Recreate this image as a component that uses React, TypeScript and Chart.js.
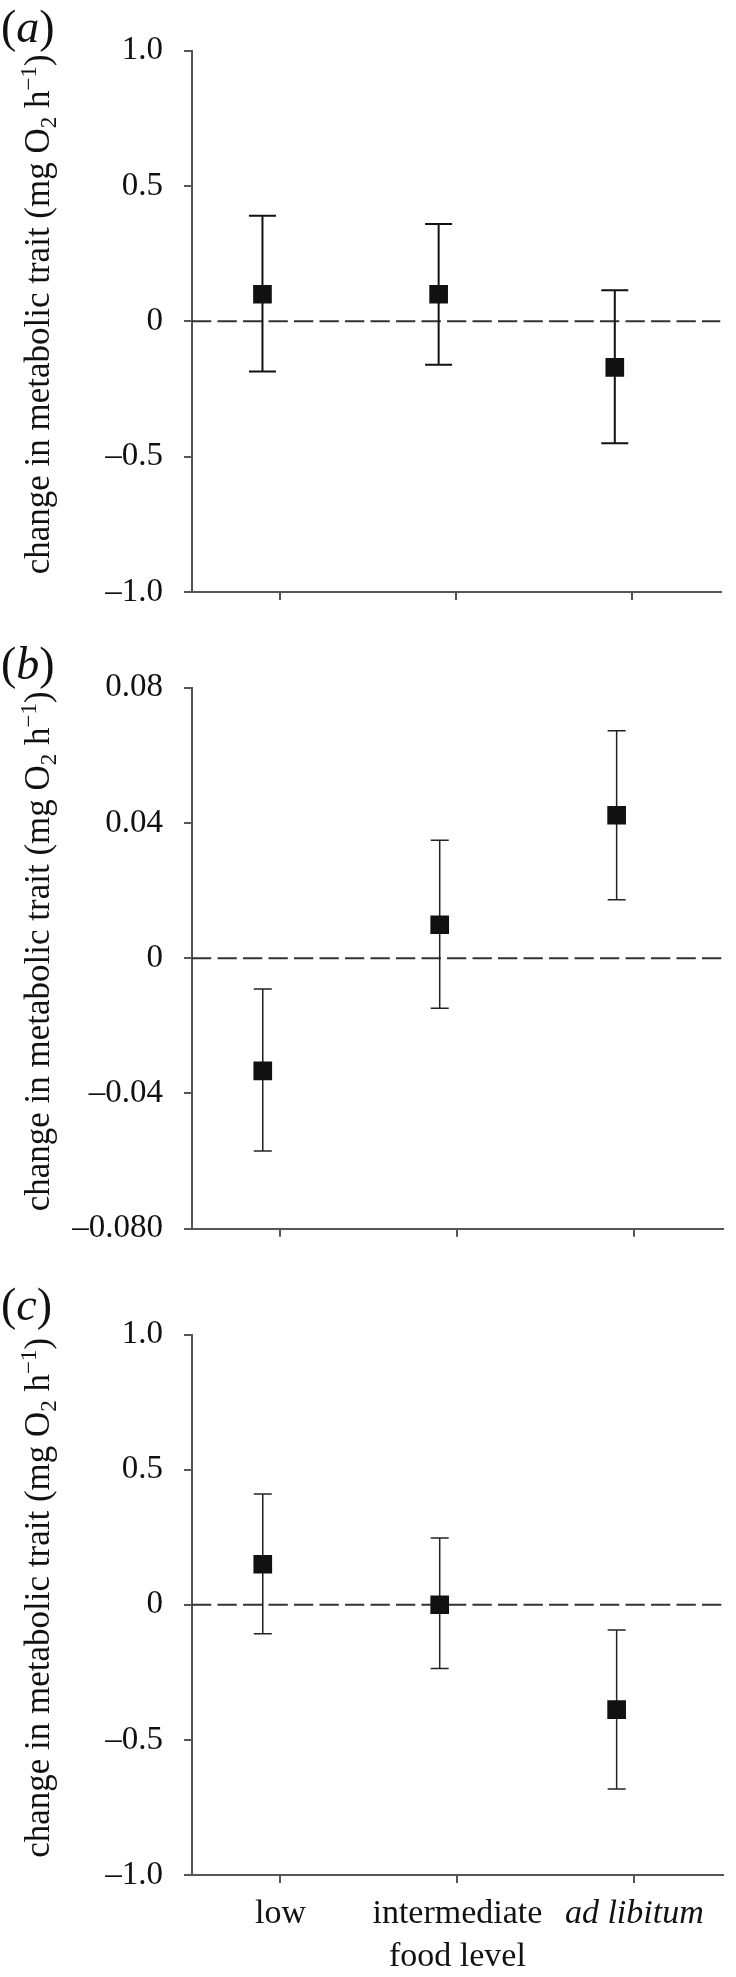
import React, { useEffect, useRef } from 'react';
import { Chart, registerables } from 'chart.js';

Chart.register(...registerables);

// ---------- data ----------
const categories = ['low', 'intermediate', 'ad libitum'];
const categoryItalic = [false, false, true];
const xAxisTitle = 'food level';
// y-axis title pieces: normal text, subscript, superscript
const yTitleParts = [
  { text: 'change in metabolic trait (mg O', kind: 'normal' },
  { text: '2', kind: 'sub' },
  { text: ' h', kind: 'normal' },
  { text: '\u22121', kind: 'sup' },
  { text: ')', kind: 'normal' },
];

const meanA = [0.1, 0.1, -0.17];
const upperA = [0.39, 0.36, 0.115];
const lowerA = [-0.185, -0.16, -0.45];
const tickValsA = [-1, -0.5, 0, 0.5, 1];
const tickLabelsA = ['\u20131.0', '\u20130.5', '0', '0.5', '1.0'];

const meanB = [-0.0333, 0.0099, 0.0423];
const upperB = [-0.0091, 0.0349, 0.0673];
const lowerB = [-0.057, -0.0148, 0.0173];
const tickValsB = [-0.08, -0.04, 0, 0.04, 0.08];
const tickLabelsB = ['\u20130.080', '\u20130.04', '0', '0.04', '0.08'];

const meanC = [0.15, 0.0, -0.388];
const upperC = [0.41, 0.247, -0.093];
const lowerC = [-0.107, -0.236, -0.682];
const tickValsC = [-1, -0.5, 0, 0.5, 1];
const tickLabelsC = ['\u20131.0', '\u20130.5', '0', '0.5', '1.0'];

// ---------- style / layout ----------
const FONT = "'Liberation Serif', 'Times New Roman', 'DejaVu Serif', serif";
const X_MIN = 0.5;
const X_MAX = 3.5;
const POINT_SHIFT = -0.1;
const AXIS_COLOR = '#555';
const TEXT_COLOR = '#111';
const Y_TITLE_SIZE = 35;
const Y_TITLE_SMALL = 23;
const Y_TITLE_BASELINE_X = 49;
const Y_TITLE_SHIFT = -7;

type Panel = {
  letter: string;
  mean: number[];
  upper: number[];
  lower: number[];
  tickVals: number[];
  tickLabels: string[];
  top: number;
  height: number;
  padTop: number;
  xAxisHeight: number;
  capHalf: number;
  barWidth: number;
  barColor: string;
  showLabels: boolean;
  labelShift: number;
};

const panels: Panel[] = [
  { letter: 'a', mean: meanA, upper: upperA, lower: lowerA, tickVals: tickValsA, tickLabels: tickLabelsA,
    top: 0, height: 640, padTop: 50.7, xAxisHeight: 48, capHalf: 13.5, barWidth: 2, barColor: '#111', showLabels: false, labelShift: 0 },
  { letter: 'b', mean: meanB, upper: upperB, lower: lowerB, tickVals: tickValsB, tickLabels: tickLabelsB,
    top: 640, height: 650, padTop: 47.8, xAxisHeight: 61.3, capHalf: 9, barWidth: 1.5, barColor: '#222', showLabels: false, labelShift: 0 },
  { letter: 'c', mean: meanC, upper: upperC, lower: lowerC, tickVals: tickValsC, tickLabels: tickLabelsC,
    top: 1290, height: 690, padTop: 44.5, xAxisHeight: 105, capHalf: 9, barWidth: 1.5, barColor: '#222', showLabels: true, labelShift: -6 },
];

const richYTitle = {
  id: 'richYTitle',
  afterDraw(chart: any) {
    const { ctx, chartArea } = chart;
    const cy = (chartArea.top + chartArea.bottom) / 2 + Y_TITLE_SHIFT;
    const fontFor = (kind: string) =>
      `normal ${kind === 'normal' ? Y_TITLE_SIZE : Y_TITLE_SMALL}px ${FONT}`;
    ctx.save();
    let total = 0;
    const widths = yTitleParts.map((part) => {
      ctx.font = fontFor(part.kind);
      const w = ctx.measureText(part.text).width;
      total += w;
      return w;
    });
    ctx.translate(Y_TITLE_BASELINE_X, cy);
    ctx.rotate(-Math.PI / 2);
    ctx.fillStyle = TEXT_COLOR;
    ctx.textAlign = 'left';
    ctx.textBaseline = 'alphabetic';
    let x = -total / 2;
    yTitleParts.forEach((part, i) => {
      ctx.font = fontFor(part.kind);
      const dy = part.kind === 'sub' ? 7 : part.kind === 'sup' ? -13 : 0;
      ctx.fillText(part.text, x, dy);
      x += widths[i];
    });
    ctx.restore();
  },
};

function buildConfig(p: Panel): any {
  const xs = categories.map((_, i) => i + 1 + POINT_SHIFT);
  const errData: any[] = [];
  xs.forEach((x, i) => {
    errData.push({ x, y: p.lower[i] }, { x, y: p.upper[i] }, { x, y: null });
  });
  const grid = {
    display: true,
    drawOnChartArea: false,
    drawTicks: true,
    tickLength: 8,
    color: AXIS_COLOR,
    lineWidth: 2,
  };
  const border = { display: true, color: AXIS_COLOR, width: 2 };
  return {
    type: 'scatter',
    plugins: [richYTitle],
    data: {
      datasets: [
        {
          label: 'mean',
          data: xs.map((x, i) => ({ x, y: p.mean[i] })),
          showLine: false,
          pointStyle: 'rect',
          pointRadius: 13.2,
          pointHoverRadius: 13.2,
          pointBackgroundColor: '#111',
          pointBorderColor: '#111',
          pointBorderWidth: 0,
        },
        {
          label: 'error',
          data: errData,
          showLine: true,
          spanGaps: false,
          borderColor: p.barColor,
          borderWidth: p.barWidth,
          pointStyle: 'line',
          pointRadius: p.capHalf,
          pointHoverRadius: p.capHalf,
          pointBorderColor: p.barColor,
          pointBackgroundColor: p.barColor,
          pointBorderWidth: p.barWidth,
        },
        {
          label: 'zero',
          data: [{ x: X_MIN, y: 0 }, { x: X_MAX, y: 0 }],
          showLine: true,
          borderColor: '#333',
          borderWidth: 2,
          borderDash: [19.3, 6.2],
          pointRadius: 0,
          pointHoverRadius: 0,
        },
      ],
    },
    options: {
      animation: false,
      responsive: false,
      devicePixelRatio: 1,
      events: [],
      layout: { padding: { top: p.padTop, left: 0, right: 3, bottom: 0 } },
      plugins: {
        legend: { display: false },
        tooltip: { enabled: false },
        title: { display: false },
      },
      scales: {
        x: {
          type: 'linear',
          min: X_MIN,
          max: X_MAX,
          afterBuildTicks: (s: any) => {
            s.ticks = categories.map((_, i) => ({ value: i + 1 }));
          },
          afterFit: (s: any) => {
            s.height = p.xAxisHeight;
          },
          grid,
          border,
          ticks: {
            display: p.showLabels,
            autoSkip: false,
            maxRotation: 0,
            minRotation: 0,
            padding: 11,
            color: TEXT_COLOR,
            font: (ctx: any) => ({
              family: FONT,
              size: 34,
              style: categoryItalic[ctx.index] ? 'italic' : 'normal',
            }),
            callback: (_v: any, i: number) => categories[i],
          },
          title: {
            display: p.showLabels,
            text: xAxisTitle,
            color: TEXT_COLOR,
            font: { family: FONT, size: 34, lineHeight: 1 },
            padding: { top: 0, bottom: 6 },
          },
        },
        y: {
          type: 'linear',
          min: p.tickVals[0],
          max: p.tickVals[p.tickVals.length - 1],
          afterBuildTicks: (s: any) => {
            s.ticks = p.tickVals.map((v) => ({ value: v }));
          },
          afterFit: (s: any) => {
            s.width = 192;
          },
          grid,
          border,
          ticks: {
            padding: 21,
            color: TEXT_COLOR,
            font: { family: FONT, size: 33 },
            callback: (_v: any, i: number) => p.tickLabels[i],
          },
          title: { display: false },
        },
      },
    },
  };
}

function PanelChart({ p }: { p: Panel }) {
  const ref = useRef<HTMLCanvasElement | null>(null);
  useEffect(() => {
    if (!ref.current) return;
    const chart = new Chart(ref.current, buildConfig(p));
    return () => chart.destroy();
  }, [p]);
  const chartTop = p.top + p.padTop;
  return (
    <>
      <canvas
        ref={ref}
        width={736}
        height={p.height}
        style={{ position: 'absolute', left: 0, top: p.top, width: 736, height: p.height }}
      />
      <div
        style={{
          position: 'absolute',
          left: 1,
          top: chartTop - 46.5 + p.labelShift,
          fontFamily: FONT,
          fontSize: 46,
          lineHeight: '46px',
          color: '#111',
          whiteSpace: 'nowrap',
        }}
      >
        (<i>{p.letter}</i>)
      </div>
    </>
  );
}

export default function App() {
  return (
    <div style={{ position: 'absolute', left: 0, top: 0, width: 736, height: 1977, background: '#fff', overflow: 'hidden' }}>
      {panels.map((p) => (
        <PanelChart key={p.letter} p={p} />
      ))}
    </div>
  );
}
